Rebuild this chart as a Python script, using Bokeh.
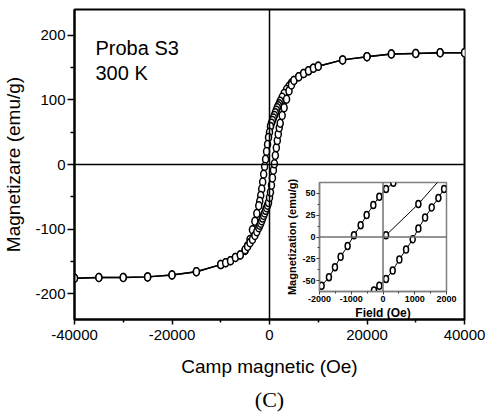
from bokeh.plotting import figure
from bokeh.models import Range1d, Span, Label, Title, FixedTicker
from bokeh.layouts import column
from bokeh.embed import file_html
from bokeh.resources import INLINE

# ---------------- main loop data ----------------
h_desc = [40000, 35000, 30000, 25000, 20000, 15000, 10000, 9000, 8000, 7000, 6000, 5000,
          4500, 4000, 3500, 3000, 2600, 2200, 2000, 1800, 1600, 1400, 1200, 1000, 800, 600,
          400, 200, 0, -200, -400, -600, -800, -1000, -1200, -1400, -1600, -1800, -2000,
          -2200, -2600, -3000, -3500, -4000, -4500, -5000, -6000, -7000, -8000, -9000,
          -10000, -15000, -20000, -25000, -30000, -35000, -40000]
m_desc = [173, 173, 172, 171, 167, 162, 152, 149, 145, 141, 136, 130,
          126, 121, 116, 110, 104, 98, 94, 91, 88, 84, 80, 76, 72, 68,
          64, 59, 50, 42, 31, 20, 8, -3, -15, -27, -38, -48, -57,
          -64, -76, -88, -101, -116, -126, -133, -140, -144, -149, -152,
          -155, -166, -171, -174, -175, -175, -176]

h_asc = [-40000, -35000, -30000, -25000, -20000, -15000, -10000, -9000, -8000, -7000, -6000,
         -5000, -4500, -4000, -3500, -3000, -2600, -2200, -2000, -1800, -1600, -1400, -1200,
         -1000, -800, -600, -400, -200, 0, 200, 400, 600, 800, 1000, 1200, 1400, 1600, 1800,
         2000, 2200, 2600, 3000, 3500, 4000, 4500, 5000, 6000, 7000, 8000, 9000, 10000,
         15000, 20000, 25000, 30000, 35000, 40000]
m_asc = [-176, -175, -175, -174, -171, -166, -155, -152, -149, -144, -140,
         -132, -127, -121, -116, -110, -104, -98, -94, -91, -87, -83, -79,
         -75, -71, -67, -63, -59, -51, -43, -32, -21, -9, 1, 14, 26, 37, 47,
         57, 64, 76, 88, 101, 114, 123, 130, 136, 141, 145, 149, 152,
         162, 167, 171, 172, 173, 173]

# ---------------- inset data ----------------
ins_desc_h = [-2150, -1934, -1703, -1514, -1335, -1114, -915, -704, -515, -305, -116, 95, 326, 540]
ins_desc_m = [-66, -55.4, -45.9, -34.4, -22.5, -10.3, 1.9, 13.4, 24.9, 36.3, 45.9, 54.7, 61.6, 70]
ins_asc_h = [-500, -284, -116, 95, 305, 515, 726, 936, 1114, 1325, 1535, 1745, 1924]
ins_asc_m = [-70, -61, -55.4, -47.8, -38.2, -25.6, -14.1, -2.7, 9.6, 22.2, 33.7, 44.4, 54.7]
ins_virgin_h = [95, 1114, 2100]
ins_virgin_m = [2, 37.5, 78]

x_ticks = [-40000, -20000, 0, 20000, 40000]
y_ticks = [-200, -100, 0, 100, 200]
ins_x_ticks = [-2000, -1000, 0, 1000, 2000]
ins_y_ticks = [-50, -25, 0, 25, 50]

FONT = "Liberation Sans"
BL, BR = 74, 24  # horizontal borders shared by both frames (column aligns them)


def hyphen_labels(ticks):
    return {t: str(t) for t in ticks}


# ---------------- main figure ----------------
p = figure(width=488, height=418, x_range=Range1d(-40000, 40000), y_range=Range1d(-240, 240),
           output_backend="svg", toolbar_location=None,
           min_border_left=BL, min_border_right=BR, min_border_top=9, min_border_bottom=99)
p.xgrid.visible = False
p.ygrid.visible = False
p.outline_line_color = "black"
p.outline_line_width = 2
p.background_fill_color = "white"
p.border_fill_color = "white"

p.xaxis.ticker = FixedTicker(ticks=x_ticks, minor_ticks=[-30000, -10000, 10000, 30000])
p.yaxis.ticker = FixedTicker(ticks=y_ticks, minor_ticks=[-150, -50, 50, 150])
p.xaxis.major_label_overrides = hyphen_labels(x_ticks)
p.yaxis.major_label_overrides = hyphen_labels(y_ticks)
for ax in (p.xaxis[0], p.yaxis[0]):
    ax.axis_line_width = 2
    ax.axis_line_color = "black"
    ax.major_tick_line_color = "black"
    ax.minor_tick_line_color = "black"
    ax.major_tick_line_width = 1.5
    ax.minor_tick_line_width = 1.5
    ax.major_tick_in = 0
    ax.minor_tick_in = 0
    ax.major_label_text_font = FONT
    ax.major_label_text_font_size = "15px"
    ax.major_label_text_color = "black"
    ax.axis_label_text_font = FONT
    ax.axis_label_text_font_size = "19px"
    ax.axis_label_text_font_style = "normal"
    ax.axis_label_text_color = "black"
p.xaxis.major_tick_out = 5
p.xaxis.minor_tick_out = 3
p.yaxis.major_tick_out = 7
p.yaxis.minor_tick_out = 4
p.xaxis.major_label_standoff = 5
p.yaxis.major_label_standoff = 2
p.xaxis.axis_label = "Camp magnetic (Oe)"
p.yaxis.axis_label = "Magnetizare (emu/g)"
p.xaxis.axis_label_standoff = 13
p.yaxis.axis_label_standoff = 8

p.add_layout(Span(location=0, dimension="width", line_color="black", line_width=1.5))
p.add_layout(Span(location=0, dimension="height", line_color="black", line_width=1.5))

p.line(h_desc, m_desc, line_color="black", line_width=1.5)
p.line(h_asc, m_asc, line_color="black", line_width=1.5)
p.ellipse(h_desc, m_desc, width=6, height=8, width_units="screen", height_units="screen",
          fill_color="white", line_color="black", line_width=1.5)
p.ellipse(h_asc, m_asc, width=6, height=8, width_units="screen", height_units="screen",
          fill_color="white", line_color="black", line_width=1.5)

p.add_layout(Label(x=-35700, y=181, text="Proba S3", text_font=FONT, text_font_size="20px",
                   text_baseline="alphabetic", text_color="black"))
p.add_layout(Label(x=-35700, y=142, text="300 K", text_font=FONT, text_font_size="20px",
                   text_baseline="alphabetic", text_color="black"))

p.add_layout(Title(text="(C)", align="center", text_font="Liberation Serif",
                   text_font_size="22px", text_font_style="normal", text_color="black"), "below")

# ---------------- inset figure ----------------
INSET_FRAME_W = 127
q = figure(width=BL + INSET_FRAME_W + BR, height=152, x_range=Range1d(-2000, 2000),
           y_range=Range1d(-62, 62), output_backend="svg", toolbar_location=None,
           min_border_left=BL, min_border_right=BR, min_border_top=10, min_border_bottom=33)
q.xgrid.visible = False
q.ygrid.visible = False
q.outline_line_color = "#808080"
q.outline_line_width = 1.5
q.background_fill_color = "white"
q.border_fill_alpha = 0
q.xaxis.ticker = FixedTicker(ticks=ins_x_ticks, minor_ticks=[-1500, -500, 500, 1500])
q.yaxis.ticker = FixedTicker(ticks=ins_y_ticks, minor_ticks=[-37.5, -12.5, 12.5, 37.5])
q.xaxis.major_label_overrides = hyphen_labels(ins_x_ticks)
q.yaxis.major_label_overrides = hyphen_labels(ins_y_ticks)
for ax in (q.xaxis[0], q.yaxis[0]):
    ax.axis_line_color = "#808080"
    ax.axis_line_width = 1.5
    ax.major_tick_line_color = "#404040"
    ax.minor_tick_line_color = "#404040"
    ax.major_tick_in = 0
    ax.minor_tick_in = 0
    ax.major_tick_out = 3
    ax.minor_tick_out = 2
    ax.major_label_standoff = 1
    ax.major_label_text_font = FONT
    ax.major_label_text_font_size = "9px"
    ax.major_label_text_font_style = "bold"
    ax.major_label_text_color = "black"
    ax.axis_label_text_font = FONT
    ax.axis_label_text_font_size = "12px"
    ax.axis_label_text_font_style = "bold"
    ax.axis_label_text_color = "black"
    ax.axis_label_standoff = 1
q.xaxis.axis_label = "Field (Oe)"
q.yaxis.axis_label = "Magnetization (emu/g)"
q.yaxis.axis_label_text_font_size = "11px"

q.add_layout(Span(location=0, dimension="width", line_color="#707070", line_width=1.5))
q.add_layout(Span(location=0, dimension="height", line_color="#707070", line_width=1.5))

for hh, mm in ((ins_desc_h, ins_desc_m), (ins_asc_h, ins_asc_m), (ins_virgin_h, ins_virgin_m)):
    q.line(hh, mm, line_color="black", line_width=1)
    q.ellipse(hh, mm, width=5, height=7, width_units="screen", height_units="screen",
              fill_color="white", line_color="black", line_width=1.5)

q.styles = {"position": "absolute", "left": f"{319 - BL}px", "top": "172px"}

layout = column(p, q)
layout.styles = {"position": "relative"}

open("out.html", "w").write(file_html(layout, INLINE))
